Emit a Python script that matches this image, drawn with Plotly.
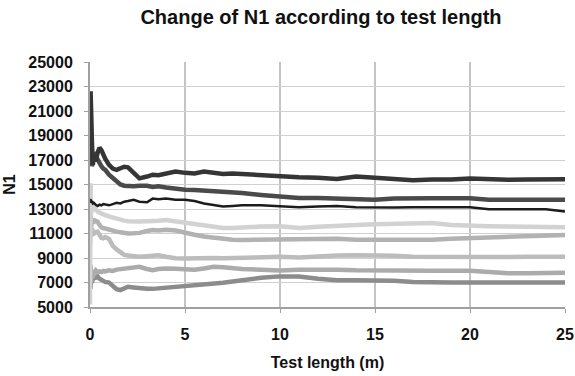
import plotly.graph_objects as go

# Test length (m)
test_length = [0, 0.03, 0.06, 0.1, 0.15, 0.2, 0.3, 0.4, 0.5, 0.6, 0.7, 0.8,
               1.0, 1.2, 1.4, 1.6, 1.8, 2.0, 2.3, 2.6, 3.0, 3.3, 3.6, 4.0,
               4.5, 5.0, 5.5, 6.0, 6.5, 7.0, 7.5, 8.0, 9.0, 10, 11, 12,
               13, 14, 15, 16, 17, 18, 19, 20, 21, 22, 23, 24, 25]

s1 = [20000, 22600, 21000, 18500, 16600, 17400, 16900, 17600, 18000, 17800, 17400, 17100,
      16600, 16300, 16200, 16350, 16450, 16400, 15900, 15500, 15650, 15800, 15750, 15900,
      16050, 15950, 15900, 16050, 15950, 15850, 15900, 15850, 15800, 15650, 15600, 15550,
      15450, 15650, 15550, 15400, 15350, 15400, 15400, 15500, 15400, 15380, 15400, 15380, 15430]
s2 = [19000, 21500, 18500, 16500, 16800, 17600, 17300, 16900, 16700, 16500, 16300, 16200,
      15800, 15500, 15300, 15000, 14900, 14850, 14850, 14900, 14900, 14800, 14850, 14750,
      14650, 14580, 14550, 14500, 14450, 14430, 14400, 14300, 14150, 14000, 13900, 13900,
      13880, 13800, 13750, 13850, 13900, 13880, 13880, 13880, 13760, 13750, 13750, 13740, 13750]
s3 = [13700, 13800, 13500, 13650, 13450, 13500, 13350, 13250, 13350, 13300, 13400, 13350,
      13300, 13400, 13500, 13450, 13600, 13650, 13750, 13600, 13550, 13850, 13800, 13850,
      13750, 13750, 13650, 13450, 13300, 13200, 13250, 13300, 13300, 13200, 13150, 13200,
      13250, 13150, 13120, 13130, 13140, 13130, 13140, 13140, 12980, 12970, 12990, 12980, 12800]
s4 = [5200, 15100, 12600, 13200, 12900, 13100, 12900, 12800, 12700, 12600, 12500, 12500,
      12400, 12300, 12250, 12150, 12050, 12000, 11950, 11980, 12000, 11980, 12050, 12100,
      12000, 11850, 11800, 11700, 11550, 11450, 11450, 11500, 11570, 11600, 11450, 11550,
      11650, 11700, 11750, 11800, 11880, 11850, 11700, 11620, 11600, 11580, 11550, 11520, 11510]
s5 = [11000, 12500, 11500, 12000, 11800, 12100, 12000, 11950, 11700, 11500, 11450, 11400,
      11300, 11200, 11150, 11100, 11050, 11000, 11020, 11050, 11200, 11280, 11250, 11300,
      11250, 11050, 10900, 10750, 10650, 10550, 10500, 10470, 10480, 10500, 10570, 10600,
      10580, 10500, 10480, 10450, 10420, 10480, 10580, 10620, 10700, 10780, 10820, 10850, 10880]
s6 = [10000, 11800, 10800, 11400, 11200, 11000, 11100, 11150, 10900, 10650, 10600, 10700,
      10550, 10000, 9700, 9450, 9250, 9200, 9150, 9100, 9150, 9200, 9230, 9100,
      8980, 8960, 8980, 9050, 9000, 8970, 9000, 9060, 9100, 9100, 9050, 9150,
      9200, 9220, 9240, 9180, 9100, 9080, 9050, 9040, 9060, 9080, 9100, 9090, 9100]
s7 = [7500, 8400, 7000, 7700, 7400, 7800, 8000, 7850, 7900, 7850, 7950, 7900,
      8000, 7950, 8050, 8100, 8150, 8200, 8250, 8280, 8100, 8000, 8100, 8150,
      8120, 8100, 8050, 8150, 8280, 8250, 8150, 8100, 8050, 7980, 8050, 8080,
      8050, 8000, 7970, 7960, 7950, 7960, 7950, 7950, 7850, 7750, 7760, 7790, 7800]
s8 = [8500, 6500, 7900, 7000, 7300, 7500, 7400, 7500, 7300, 7200, 7100, 7050,
      7000, 6700, 6450, 6380, 6500, 6650, 6600, 6520, 6500, 6480, 6520, 6580,
      6640, 6640, 6700, 6780, 6880, 6980, 7080, 7200, 7380, 7500, 7480, 7300,
      7180, 7190, 7190, 7150, 7050, 7000, 7000, 7000, 6990, 7000, 7000, 6990, 7000]

y_ticks = [5000, 7000, 9000, 11000, 13000, 15000, 17000, 19000, 21000, 23000, 25000]
x_ticks = [0, 5, 10, 15, 20, 25]

series = [
    (s8, "#8c8c8c", 4.5),
    (s7, "#ababab", 4.5),
    (s6, "#bcbcbc", 4.5),
    (s5, "#b2b2b2", 4.5),
    (s4, "#d2d2d2", 4.5),
    (s3, "#1c1c1c", 2.5),
    (s2, "#4a4a4a", 4.5),
    (s1, "#353535", 4.5),
]

FONT = "Arial, Liberation Sans, sans-serif"

fig = go.Figure()
for vals, col, w in series:
    fig.add_trace(go.Scatter(x=test_length, y=vals, mode="lines",
                             line=dict(color=col, width=w), showlegend=False,
                             hoverinfo="skip"))

fig.update_layout(
    width=575, height=376,
    margin=dict(l=90, r=10, t=62, b=69, autoexpand=False),
    paper_bgcolor="white", plot_bgcolor="white",
    title=dict(text="Change of N1 according to test length", x=321 / 575, xanchor="center",
               xref="container",
               y=1 - 17 / 376, yanchor="middle", yref="container",
               font=dict(family=FONT, size=20, color="#111", weight="bold")),
    font=dict(family=FONT, color="#111"),
)
fig.update_xaxes(range=[0, 25], tickvals=x_ticks, showgrid=True, gridcolor="#c4c4c4",
                 gridwidth=2, showline=True, linecolor="#a0a0a0", linewidth=2,
                 ticks="outside", ticklen=4, tickcolor="#a0a0a0", ticklabelstandoff=8,
                 automargin=False,
                 tickfont=dict(family=FONT, size=16, weight="bold"),
                 title=dict(text="Test length (m)", standoff=15,
                            font=dict(family=FONT, size=16, weight="bold")),
                 zeroline=False, mirror=False)
fig.update_yaxes(range=[5000, 25000], tickvals=y_ticks, tickformat="d", showgrid=True,
                 gridcolor="#d0d0d0", gridwidth=1, showline=True, linecolor="#a0a0a0",
                 linewidth=2, ticks="outside", ticklen=4, tickcolor="#a0a0a0",
                 ticklabelstandoff=8, automargin=False,
                 tickfont=dict(family=FONT, size=16, weight="bold"),
                 title=dict(text="N1", standoff=9,
                            font=dict(family=FONT, size=16, weight="bold")),
                 zeroline=False)

fig.write_html("out.html")
